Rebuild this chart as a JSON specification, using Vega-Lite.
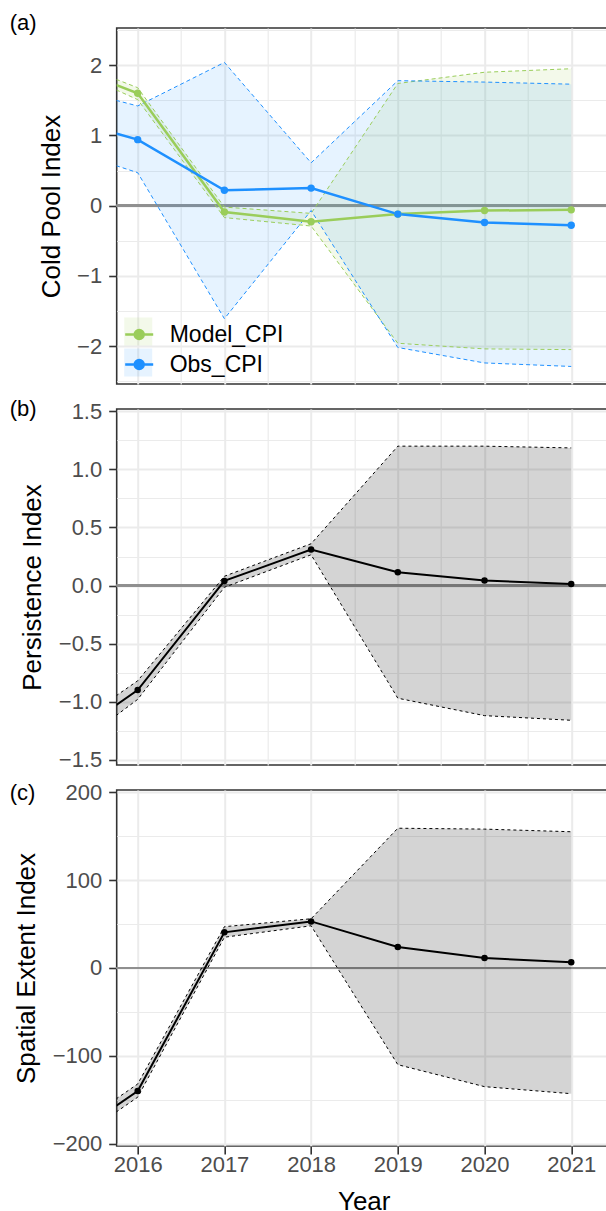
{
  "$schema": "https://vega.github.io/schema/vega-lite/v6.json",
  "autosize": {"type": "pad"},
  "padding": {"left": 8.7, "top": 11, "right": 0, "bottom": 0},
  "background": "white",
  "bounds": "flush",
  "spacing": 25,
  "datasets": {
    "cpi": [
      {"series": "Model_CPI", "year": 2015.75, "value": 1.72, "lo": 1.65, "hi": 1.80},
      {"series": "Model_CPI", "year": 2016, "value": 1.60, "lo": 1.51, "hi": 1.68},
      {"series": "Model_CPI", "year": 2017, "value": -0.09, "lo": -0.17, "hi": -0.02},
      {"series": "Model_CPI", "year": 2018, "value": -0.23, "lo": -0.29, "hi": -0.11},
      {"series": "Model_CPI", "year": 2019, "value": -0.12, "lo": -1.96, "hi": 1.74},
      {"series": "Model_CPI", "year": 2020, "value": -0.07, "lo": -2.04, "hi": 1.90},
      {"series": "Model_CPI", "year": 2021, "value": -0.06, "lo": -2.05, "hi": 1.95},
      {"series": "Obs_CPI", "year": 2015.75, "value": 1.03, "lo": 0.57, "hi": 1.50},
      {"series": "Obs_CPI", "year": 2016, "value": 0.94, "lo": 0.47, "hi": 1.42},
      {"series": "Obs_CPI", "year": 2017, "value": 0.22, "lo": -1.61, "hi": 2.04},
      {"series": "Obs_CPI", "year": 2018, "value": 0.25, "lo": -0.07, "hi": 0.61},
      {"series": "Obs_CPI", "year": 2019, "value": -0.12, "lo": -2.02, "hi": 1.78},
      {"series": "Obs_CPI", "year": 2020, "value": -0.24, "lo": -2.24, "hi": 1.76},
      {"series": "Obs_CPI", "year": 2021, "value": -0.28, "lo": -2.29, "hi": 1.73}
    ],
    "persistence": [
      {"year": 2015.75, "value": -1.03, "lo": -1.12, "hi": -0.95},
      {"year": 2016, "value": -0.90, "lo": -0.98, "hi": -0.82},
      {"year": 2017, "value": 0.04, "lo": -0.015, "hi": 0.08},
      {"year": 2018, "value": 0.31, "lo": 0.265, "hi": 0.36},
      {"year": 2019, "value": 0.115, "lo": -0.97, "hi": 1.20},
      {"year": 2020, "value": 0.043, "lo": -1.12, "hi": 1.20},
      {"year": 2021, "value": 0.013, "lo": -1.16, "hi": 1.185}
    ],
    "extent": [
      {"year": 2015.75, "value": -157, "lo": -164, "hi": -149},
      {"year": 2016, "value": -140, "lo": -147, "hi": -132},
      {"year": 2017, "value": 40.6, "lo": 35, "hi": 47},
      {"year": 2018, "value": 53, "lo": 48, "hi": 56},
      {"year": 2019, "value": 24, "lo": -110, "hi": 159},
      {"year": 2020, "value": 11.4, "lo": -135, "hi": 158},
      {"year": 2021, "value": 6.5, "lo": -143, "hi": 155}
    ]
  },
  "vconcat": [
    {
      "width": 494,
      "height": 356,
      "data": {"name": "cpi"},
      "title": {"text": "(a)", "anchor": "start", "frame": "group", "orient": "top", "offset": 0, "dx": -107, "dy": 17, "baseline": "middle", "fontSize": 22, "fontWeight": "normal", "color": "#000000"},
      "layer": [
        {
          "mark": {"type": "rule", "color": "#8F8F8F", "strokeWidth": 2},
          "encoding": {
            "y": {"datum": 0, "type": "quantitative", "scale": {"domain": [-2.54, 2.53], "nice": false, "zero": false},
              "axis": {"title": "Cold Pool Index", "values": [-2.5, -2, -1.5, -1, -0.5, 0, 0.5, 1, 1.5, 2, 2.5],
                "labelExpr": "datum.value % 1 === 0 ? format(datum.value, 'd') : ''",
                "tickOpacity": {"condition": {"test": "datum.value % 1 !== 0", "value": 0}, "value": 1},
                "gridWidth": {"condition": {"test": "datum.value % 1 !== 0", "value": 1.2}, "value": 2}}}
          }
        },
        {
          "mark": {"type": "area", "opacity": 1, "clip": true},
          "encoding": {
            "x": {"field": "year", "type": "quantitative", "scale": {"domain": [2015.758, 2021.455], "nice": false, "zero": false},
              "axis": {"title": null, "labels": false, "ticks": false, "values": [2016, 2016.5, 2017, 2017.5, 2018, 2018.5, 2019, 2019.5, 2020, 2020.5, 2021],
                "gridWidth": {"condition": {"test": "datum.value % 1 !== 0", "value": 1.2}, "value": 2}}},
            "y": {"field": "lo", "type": "quantitative"},
            "y2": {"field": "hi"},
            "fill": {"field": "series", "type": "nominal",
              "scale": {"domain": ["Model_CPI", "Obs_CPI"], "range": ["rgba(154,205,80,0.12)", "rgba(30,144,255,0.11)"]},
              "legend": {"orient": "bottom-left", "offset": 7, "title": null, "padding": 0, "symbolType": "square", "symbolSize": 784,
                "symbolStrokeWidth": 1, "symbolDash": [3, 2], "rowPadding": 2, "labelFontSize": 23, "labelOffset": 15, "labelExpr": "''",
                "encode": {"symbols": {"update": {"stroke": {"signal": "datum.value === 'Model_CPI' ? '#9ACD5A' : '#1E90FF'"}}}}}}
          }
        },
        {
          "mark": {"type": "line", "strokeWidth": 1, "strokeDash": [4, 3], "clip": true},
          "encoding": {
            "x": {"field": "year", "type": "quantitative"},
            "y": {"field": "hi", "type": "quantitative"},
            "color": {"field": "series", "type": "nominal"}
          }
        },
        {
          "mark": {"type": "line", "strokeWidth": 1, "strokeDash": [4, 3], "clip": true},
          "encoding": {
            "x": {"field": "year", "type": "quantitative"},
            "y": {"field": "lo", "type": "quantitative"},
            "color": {"field": "series", "type": "nominal"}
          }
        },
        {
          "mark": {"type": "line", "strokeWidth": 2.5, "clip": true},
          "encoding": {
            "x": {"field": "year", "type": "quantitative"},
            "y": {"field": "value", "type": "quantitative"},
            "color": {"field": "series", "type": "nominal",
              "scale": {"domain": ["Model_CPI", "Obs_CPI"], "range": ["#9ACD5A", "#1E90FF"]},
              "legend": {"orient": "none", "legendX": 7, "legendY": 291, "title": null, "padding": 0,
                "symbolType": "M-1,0L1,0M0.32,0A0.32,0.32,0,1,1,-0.32,0A0.32,0.32,0,1,1,0.32,0",
                "symbolSize": 784, "symbolStrokeWidth": 2.5, "rowPadding": 2, "labelFontSize": 23, "labelOffset": 15, "labelColor": "#000000",
                "encode": {"symbols": {"update": {
                  "fill": {"signal": "datum.value === 'Model_CPI' ? '#9ACD5A' : '#1E90FF'"},
                  "stroke": {"signal": "datum.value === 'Model_CPI' ? '#9ACD5A' : '#1E90FF'"},
                  "opacity": {"value": 1}, "fillOpacity": {"value": 1}}}}}}
          }
        },
        {
          "transform": [{"filter": "datum.year >= 2016"}],
          "mark": {"type": "point", "filled": true, "opacity": 1, "size": 55, "clip": true},
          "encoding": {
            "x": {"field": "year", "type": "quantitative"},
            "y": {"field": "value", "type": "quantitative"},
            "color": {"field": "series", "type": "nominal"}
          }
        }
      ]
    },
    {
      "width": 494,
      "height": 356,
      "data": {"name": "persistence"},
      "title": {"text": "(b)", "anchor": "start", "frame": "group", "orient": "top", "offset": 0, "dx": -107, "dy": 30.5, "baseline": "middle", "fontSize": 22, "fontWeight": "normal", "color": "#000000"},
      "layer": [
        {
          "mark": {"type": "rule", "color": "#8F8F8F", "strokeWidth": 2},
          "encoding": {"y": {"datum": 0, "type": "quantitative"}}
        },
        {
          "mark": {"type": "area", "color": "#000000", "opacity": 0.17, "clip": true},
          "encoding": {
            "x": {"field": "year", "type": "quantitative", "scale": {"domain": [2015.758, 2021.455], "nice": false, "zero": false},
              "axis": {"title": null, "labels": false, "ticks": false, "values": [2016, 2016.5, 2017, 2017.5, 2018, 2018.5, 2019, 2019.5, 2020, 2020.5, 2021],
                "gridWidth": {"condition": {"test": "datum.value % 1 !== 0", "value": 1.2}, "value": 2}}},
            "y": {"field": "lo", "type": "quantitative", "scale": {"domain": [-1.545, 1.52], "nice": false, "zero": false},
              "axis": {"title": "Persistence Index", "values": [-1.5, -1.25, -1, -0.75, -0.5, -0.25, 0, 0.25, 0.5, 0.75, 1, 1.25, 1.5], "format": ".1f",
                "labelExpr": "(datum.value * 4) % 2 === 0 ? datum.label : ''",
                "tickOpacity": {"condition": {"test": "(datum.value * 4) % 2 !== 0", "value": 0}, "value": 1},
                "gridWidth": {"condition": {"test": "(datum.value * 4) % 2 !== 0", "value": 1.2}, "value": 2}}},
            "y2": {"field": "hi"}
          }
        },
        {
          "mark": {"type": "line", "color": "#000000", "strokeWidth": 1, "strokeDash": [3, 3], "clip": true},
          "encoding": {"x": {"field": "year", "type": "quantitative"}, "y": {"field": "hi", "type": "quantitative"}}
        },
        {
          "mark": {"type": "line", "color": "#000000", "strokeWidth": 1, "strokeDash": [3, 3], "clip": true},
          "encoding": {"x": {"field": "year", "type": "quantitative"}, "y": {"field": "lo", "type": "quantitative"}}
        },
        {
          "mark": {"type": "line", "color": "#000000", "strokeWidth": 2, "clip": true},
          "encoding": {"x": {"field": "year", "type": "quantitative"}, "y": {"field": "value", "type": "quantitative"}}
        },
        {
          "transform": [{"filter": "datum.year >= 2016"}],
          "mark": {"type": "point", "filled": true, "color": "#000000", "opacity": 1, "size": 42, "clip": true},
          "encoding": {"x": {"field": "year", "type": "quantitative"}, "y": {"field": "value", "type": "quantitative"}}
        }
      ]
    },
    {
      "width": 494,
      "height": 356,
      "data": {"name": "extent"},
      "title": {"text": "(c)", "anchor": "start", "frame": "group", "orient": "top", "offset": 0, "dx": -107, "dy": 34, "baseline": "middle", "fontSize": 22, "fontWeight": "normal", "color": "#000000"},
      "layer": [
        {
          "mark": {"type": "rule", "color": "#8F8F8F", "strokeWidth": 2},
          "encoding": {"y": {"datum": 0, "type": "quantitative"}}
        },
        {
          "mark": {"type": "area", "color": "#000000", "opacity": 0.17, "clip": true},
          "encoding": {
            "x": {"field": "year", "type": "quantitative", "scale": {"domain": [2015.758, 2021.455], "nice": false, "zero": false},
              "axis": {"title": "Year", "values": [2016, 2016.5, 2017, 2017.5, 2018, 2018.5, 2019, 2019.5, 2020, 2020.5, 2021], "format": "d",
                "labelExpr": "datum.value % 1 === 0 ? datum.label : ''", "labelPadding": 1, "titlePadding": 13,
                "tickOpacity": {"condition": {"test": "datum.value % 1 !== 0", "value": 0}, "value": 1},
                "gridWidth": {"condition": {"test": "datum.value % 1 !== 0", "value": 1.2}, "value": 2}}},
            "y": {"field": "lo", "type": "quantitative", "scale": {"domain": [-202.5, 202.5], "nice": false, "zero": false},
              "axis": {"title": "Spatial Extent Index", "values": [-200, -150, -100, -50, 0, 50, 100, 150, 200], "format": "d",
                "labelExpr": "datum.value % 100 === 0 ? datum.label : ''",
                "tickOpacity": {"condition": {"test": "datum.value % 100 !== 0", "value": 0}, "value": 1},
                "gridWidth": {"condition": {"test": "datum.value % 100 !== 0", "value": 1.2}, "value": 2}}},
            "y2": {"field": "hi"}
          }
        },
        {
          "mark": {"type": "line", "color": "#000000", "strokeWidth": 1, "strokeDash": [3, 3], "clip": true},
          "encoding": {"x": {"field": "year", "type": "quantitative"}, "y": {"field": "hi", "type": "quantitative"}}
        },
        {
          "mark": {"type": "line", "color": "#000000", "strokeWidth": 1, "strokeDash": [3, 3], "clip": true},
          "encoding": {"x": {"field": "year", "type": "quantitative"}, "y": {"field": "lo", "type": "quantitative"}}
        },
        {
          "mark": {"type": "line", "color": "#000000", "strokeWidth": 2, "clip": true},
          "encoding": {"x": {"field": "year", "type": "quantitative"}, "y": {"field": "value", "type": "quantitative"}}
        },
        {
          "transform": [{"filter": "datum.year >= 2016"}],
          "mark": {"type": "point", "filled": true, "color": "#000000", "opacity": 1, "size": 42, "clip": true},
          "encoding": {"x": {"field": "year", "type": "quantitative"}, "y": {"field": "value", "type": "quantitative"}}
        }
      ]
    }
  ],
  "resolve": {"scale": {"x": "independent", "y": "independent", "color": "independent", "fill": "independent"}},
  "config": {
    "font": "Liberation Sans",
    "view": {"stroke": "#333333", "strokeWidth": 1.6},
    "axis": {
      "domain": false,
      "grid": true,
      "gridColor": "#EBEBEB",
      "tickCount": 100,
      "tickColor": "#333333",
      "tickWidth": 1.6,
      "tickSize": 8,
      "labelColor": "#4D4D4D",
      "labelFontSize": 22,
      "labelPadding": 7,
      "titleFontSize": 26,
      "titleFontWeight": "normal",
      "titleColor": "#000000",
      "titlePadding": 12.5
    },
    "legend": {"labelFont": "Liberation Sans", "labelLimit": 0}
  }
}
